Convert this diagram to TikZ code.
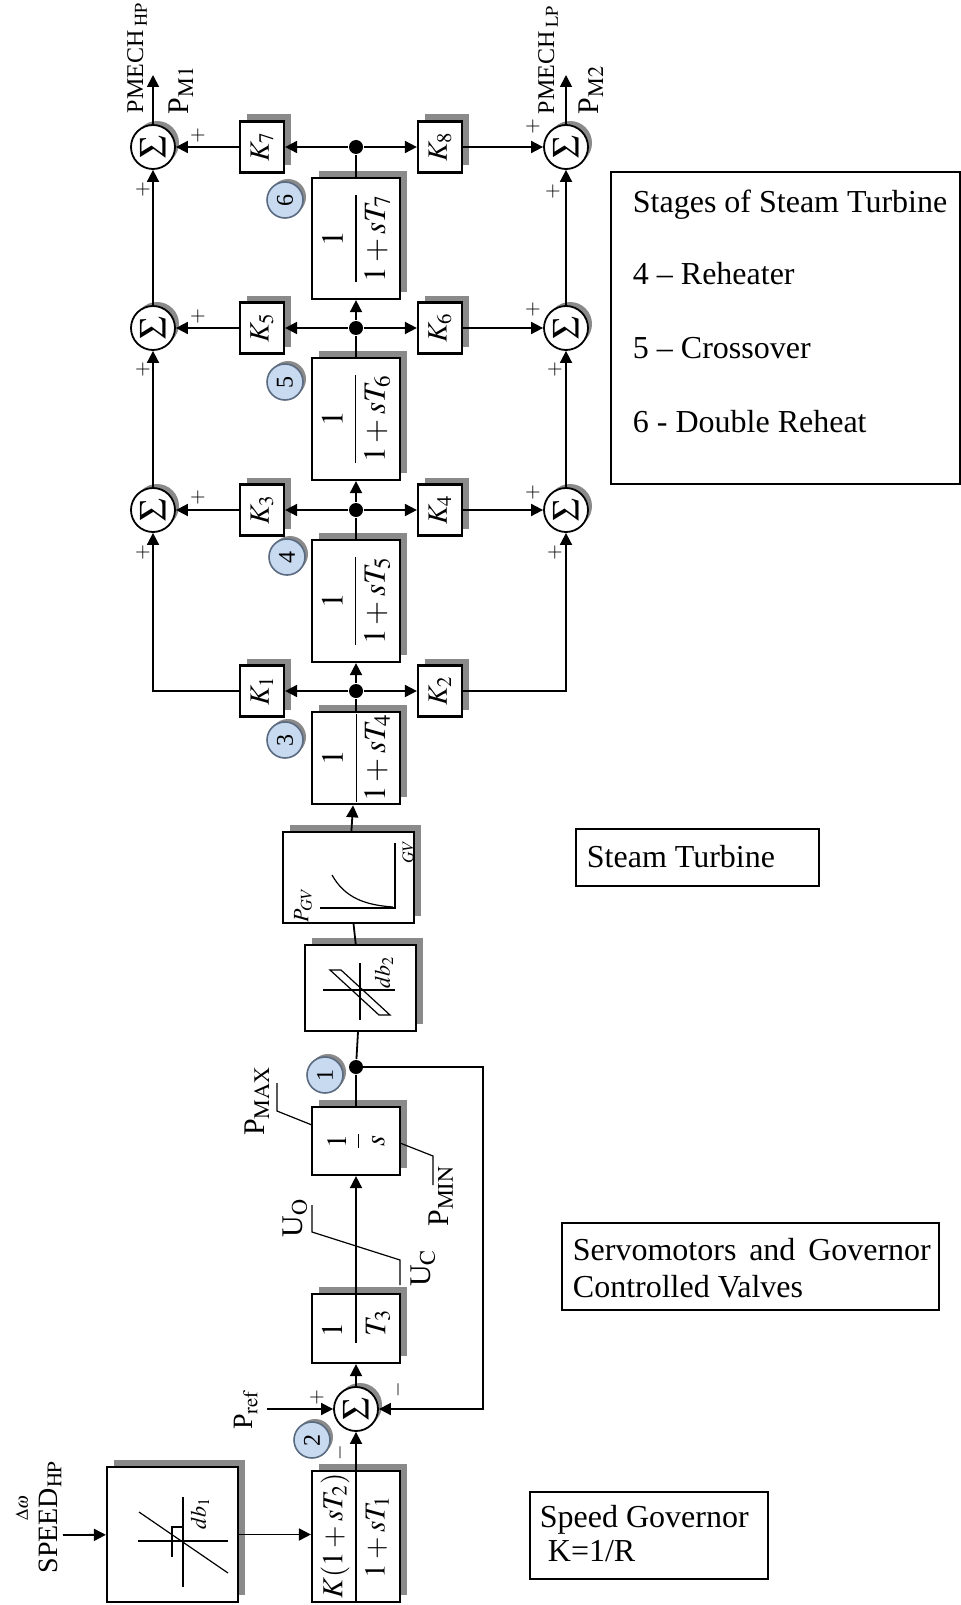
\documentclass[tikz,border=0pt]{standalone}
\usepackage{mathptmx}
\usepackage[no-math]{fontspec}
\setmainfont{Liberation Serif}
\usepackage{graphicx}
\usetikzlibrary{arrows.meta,shadows,positioning}
\definecolor{tagfill}{HTML}{C8DAF0}
\definecolor{tagline}{HTML}{5A6A80}
\definecolor{shade}{HTML}{8A8A8A}
\newcommand{\vtext}[1]{\rotatebox{90}{#1}}
\newcommand{\lagtf}[1]{\vtext{$\displaystyle\frac{1}{1+sT_{#1}}$}}
\tikzset{
  blk/.style={draw,line width=1.1pt,fill=white,inner sep=0pt,
    general shadow={fill=shade,shadow xshift=3.5pt,shadow yshift=3.5pt},
    font=\fontsize{14}{16}\selectfont},
  lag/.style={blk,minimum width=44pt,font=\fontsize{15.5}{17}\selectfont},
  gain/.style={blk,minimum width=22pt,minimum height=25.5pt},
  sumc/.style={circle,draw,fill=white,minimum size=22pt,inner sep=0pt,
    general shadow={fill=shade,shadow xshift=2pt,shadow yshift=2pt},
    font=\fontsize{19}{21}\selectfont},
  dot/.style={circle,fill,minimum size=7pt,inner sep=0pt},
  tag/.style={circle,draw=tagline,line width=0.8pt,fill=tagfill,minimum size=18pt,
    inner sep=0pt,general shadow={fill=shade,shadow xshift=1.5pt,shadow yshift=1.5pt},
    font=\fontsize{12}{14}\selectfont},
  sgn/.style={inner sep=0pt,font=\fontsize{10}{12}\selectfont},
  lbl/.style={rotate=90,inner sep=0pt,font=\fontsize{13}{15}\selectfont},
  note/.style={anchor=base west,inner sep=0pt,font=\fontsize{16}{19}\selectfont}
}
\begin{document}
\begin{tikzpicture}[x=0.5pt,y=-0.5pt,>={Triangle[length=6pt,width=6pt]},line width=0.9pt]
  \useasboundingbox (0,0) rectangle (961,1605);

  % turbine stages
  \node[lag,minimum height=60.5pt] (tseven) at (356,238.5) {\lagtf{7}};
  \node[lag,minimum height=61pt] (tsix) at (356,419) {\lagtf{6}};
  \node[lag,minimum height=61pt] (tfive) at (356,601) {\lagtf{5}};
  \node[lag,minimum height=45pt] (tfour) at (356,758) {\lagtf{4}};

  \node[dot] (dsix) at (356,147) {};
  \node[dot] (dfive) at (356,328) {};
  \node[dot] (dfour) at (356,510) {};
  \node[dot] (dthree) at (356,691) {};

  \node[gain] (kseven) at (262,147) {\vtext{$K_7$}};
  \node[gain] (keight) at (440,147) {\vtext{$K_8$}};
  \node[gain] (kfive) at (262,328) {\vtext{$K_5$}};
  \node[gain] (ksix) at (440,328) {\vtext{$K_6$}};
  \node[gain] (kthree) at (262,510) {\vtext{$K_3$}};
  \node[gain] (kfour) at (440,510) {\vtext{$K_4$}};
  \node[gain] (kone) at (262,691) {\vtext{$K_1$}};
  \node[gain] (ktwo) at (440,691) {\vtext{$K_2$}};

  \node[sumc] (sla) at (153,147) {\vtext{$\Sigma$}};
  \node[sumc] (slb) at (153,328) {\vtext{$\Sigma$}};
  \node[sumc] (slc) at (153,510) {\vtext{$\Sigma$}};
  \node[sumc] (sra) at (566,147) {\vtext{$\Sigma$}};
  \node[sumc] (srb) at (566,328) {\vtext{$\Sigma$}};
  \node[sumc] (src) at (566,510) {\vtext{$\Sigma$}};

  \node[tag] (tagsix) at (285,200) {\vtext{6}};
  \node[tag] (tagfive) at (285,382) {\vtext{5}};
  \node[tag] (tagfour) at (287,557) {\vtext{4}};
  \node[tag] (tagthree) at (285,740) {\vtext{3}};

  \coordinate (outhp) at (153,75);
  \coordinate (outlp) at (566,75);
  \coordinate (kone corner) at (153,691);
  \coordinate (ktwo corner) at (566,691);

  \draw (tfour) -- (dthree);
  \draw[->] (dthree) -- (tfive);
  \draw (tfive) -- (dfour);
  \draw[->] (dfour) -- (tsix);
  \draw (tsix) -- (dfive);
  \draw[->] (dfive) -- (tseven);
  \draw (tseven) -- (dsix);

  \foreach \d/\l/\r in {dsix/kseven/keight,dfive/kfive/ksix,dfour/kthree/kfour,dthree/kone/ktwo}{
    \draw[->] (\d) -- (\l);
    \draw[->] (\d) -- (\r);
  }
  \draw[->] (kseven) -- (sla);
  \draw[->] (keight) -- (sra);
  \draw[->] (kfive) -- (slb);
  \draw[->] (ksix) -- (srb);
  \draw[->] (kthree) -- (slc);
  \draw[->] (kfour) -- (src);
  \draw[->] (kone) -- (kone corner) -- (slc);
  \draw[->] (ktwo) -- (ktwo corner) -- (src);
  \draw[->] (slc) -- (slb);
  \draw[->] (slb) -- (sla);
  \draw[->] (src) -- (srb);
  \draw[->] (srb) -- (sra);
  \draw[->] (sla) -- (outhp);
  \draw[->] (sra) -- (outlp);

  \node[sgn] (pa) at (198,136) {$+$};
  \node[sgn] (pb) at (143,190) {$+$};
  \node[sgn] (pc) at (198,317) {$+$};
  \node[sgn] (pd) at (143,370) {$+$};
  \node[sgn] (pe) at (198,498) {$+$};
  \node[sgn] (pf) at (143,552) {$+$};
  \node[sgn] (pg) at (533,127) {$+$};
  \node[sgn] (ph) at (553,192) {$+$};
  \node[sgn] (pi) at (533,310) {$+$};
  \node[sgn] (pj) at (555,370) {$+$};
  \node[sgn] (pk) at (533,493) {$+$};
  \node[sgn] (pl) at (555,552) {$+$};

  \node[lbl,font=\fontsize{12}{14}\selectfont] (pmechhp) at (137,58) {PMECH\,$_{\mathrm{HP}}$};
  \node[lbl,font=\fontsize{15}{17}\selectfont] (pmone) at (181,90) {P$_{\mathrm{M1}}$};
  \node[lbl,font=\fontsize{12}{14}\selectfont] (pmechlp) at (548,60) {PMECH\,$_{\mathrm{LP}}$};
  \node[lbl,font=\fontsize{15}{17}\selectfont] (pmtwo) at (591,90) {P$_{\mathrm{M2}}$};

  % valve characteristic
  \node[blk,minimum width=65.5pt,minimum height=45.5pt] (pgv) at (348.5,877.5) {};
  \draw[line width=0.6pt] (395,843) -- (395,908) -- (320,908);
  \draw[line width=0.6pt] (332,875) .. controls (345,898) and (365,905) .. (393,907);
  \node[lbl,font=\itshape\fontsize{11}{13}\selectfont] (pgvlbl) at (303,905) {$P_{GV}$};
  \node[lbl,font=\fontsize{8}{9}\selectfont] (gvlbl) at (408,852) {$GV$};
  \draw[->] (pgv) -- (tfour);

  % backlash
  \node[blk,minimum width=55.5pt,minimum height=43pt] (dbtwo) at (360.5,988) {};
  \draw[line width=0.6pt] (360,963) -- (360,1020) (323,990) -- (395,990);
  \draw[line width=0.6pt] (330,970) -- (341,970) -- (390,1015) -- (379,1015) -- cycle;
  \node[lbl,font=\fontsize{11}{13}\selectfont] (dbtwolbl) at (384,972) {$db_2$};
  \draw (dbtwo) -- (pgv);

  % servomotor and valves
  \node[dot] (done) at (356,1067) {};
  \node[tag] (tagone) at (325,1075) {\vtext{1}};
  \node[blk,minimum width=44pt,minimum height=34pt] (integ) at (356,1141) {\vtext{$\displaystyle\frac{1}{s}$}};
  \draw (integ) -- (done) -- (dbtwo);
  \coordinate (pmaxfoot) at (312,1125);
  \coordinate (pmaxknee) at (277,1111);
  \coordinate (pmaxend) at (277,1083);
  \draw[line width=0.6pt] (pmaxfoot) -- (pmaxknee) -- (pmaxend);
  \node[lbl,font=\fontsize{15}{17}\selectfont] (pmax) at (257,1101) {P$_{\mathrm{MAX}}$};
  \coordinate (pminfoot) at (400,1143);
  \coordinate (pminknee) at (433,1156);
  \coordinate (pminend) at (433,1185);
  \draw[line width=0.6pt] (pminfoot) -- (pminknee) -- (pminend);
  \node[lbl,font=\fontsize{15}{17}\selectfont] (pmin) at (441,1196) {P$_{\mathrm{MIN}}$};

  \node[blk,minimum width=44pt,minimum height=34.5pt] (tthree) at (356,1328.5) {};
  \coordinate (tthreebar) at (356,1343);
  \draw (tthree.north) -- (tthreebar);
  \node[lbl,font=\fontsize{15}{17}\selectfont] (tthreenum) at (332,1330) {$1$};
  \node[lbl,font=\fontsize{15}{17}\selectfont] (tthreeden) at (378,1323) {$T_3$};
  \draw[->] (tthree) -- (integ);
  \coordinate (uoend) at (312,1205);
  \coordinate (uoknee) at (312,1232);
  \coordinate (ucknee) at (400,1260);
  \coordinate (ucend) at (400,1285);
  \draw[line width=0.6pt] (uoend) -- (uoknee) -- (ucknee) -- (ucend);
  \node[lbl,font=\fontsize{15}{17}\selectfont] (uo) at (295,1218) {U$_{\mathrm{O}}$};
  \node[lbl,font=\fontsize{15}{17}\selectfont] (uc) at (423,1268) {U$_{\mathrm{C}}$};

  \node[sumc] (sumg) at (356,1409) {\vtext{$\Sigma$}};
  \node[tag] (tagtwo) at (312,1440) {\vtext{2}};
  \draw[->] (sumg) -- (tthree);
  \coordinate (pref) at (267,1409);
  \draw[->] (pref) -- (sumg);
  \node[lbl,font=\fontsize{14}{16}\selectfont] (preflbl) at (246,1410) {P$_{\mathrm{ref}}$};
  \coordinate (fbtop) at (483,1067);
  \draw[->] (done.center) -- (fbtop) |- (sumg);
  \node[sgn] (pplus) at (317,1397) {$+$};
  \node[sgn,rotate=90] (mright) at (398,1390) {$-$};
  \node[sgn,rotate=90] (mbottom) at (340,1453) {$-$};

  % speed governor
  \node[blk,minimum width=44pt,minimum height=65.5pt] (gov) at (356,1536.5) {};
  \draw (gov.north) -- (gov.south);
  \node[lbl,font=\fontsize{14.5}{16}\selectfont] (govnum) at (335,1536) {$K(1+sT_2)$};
  \node[lbl,font=\fontsize{14.5}{16}\selectfont] (govden) at (377,1537) {$1+sT_1$};
  \draw[->] (gov) -- (sumg);

  \node[blk,minimum width=65.5pt,minimum height=67.5pt] (dbone) at (172.5,1534.5) {};
  \draw[line width=0.6pt] (183,1497) -- (183,1587) (138,1541) -- (228,1541);
  \draw[line width=0.6pt] (139,1512) -- (228,1573);
  \draw[line width=0.6pt] (172,1557) -- (172,1527) -- (183,1527);
  \node[lbl,font=\fontsize{11}{13}\selectfont] (dbonelbl) at (200,1513) {$db_1$};
  \draw[->] (dbone.east) -- (dbone.east -| gov.west);
  \coordinate (speedin) at (63,1535);
  \draw[->] (speedin) -- (dbone);
  \node[lbl,font=\fontsize{14}{16}\selectfont] (speed) at (50,1517) {SPEED$_{\mathrm{HP}}$};
  \node[lbl,font=\fontsize{9}{10}\selectfont] (domega) at (22,1508) {$\Delta\omega$};

  % legend boxes
  \draw[line width=0.8pt] (611,172) rectangle (960,484);
  \node[note] (stages) at (632,213) {Stages of Steam Turbine};
  \node[note] (stagefour) at (632,285) {4 -- Reheater};
  \node[note] (stagefive) at (632,358) {5 -- Crossover};
  \node[note] (stagesix) at (632,432) {6 - Double Reheat};

  \draw[line width=0.8pt] (576,829) rectangle (819,886);
  \node[note] (turb) at (586,867) {Steam Turbine};

  \draw[line width=0.8pt] (562,1223) rectangle (939,1310);
  \node[note] (servoa) at (572,1260) {\makebox[179pt][s]{Servomotors and Governor}};
  \node[note] (servob) at (572,1297) {Controlled Valves};

  \draw[line width=0.8pt] (530,1492) rectangle (768,1579);
  \node[note] (gova) at (539,1527) {Speed Governor};
  \node[note] (govb) at (539,1561) {\ K=1/R};
\end{tikzpicture}
\end{document}
